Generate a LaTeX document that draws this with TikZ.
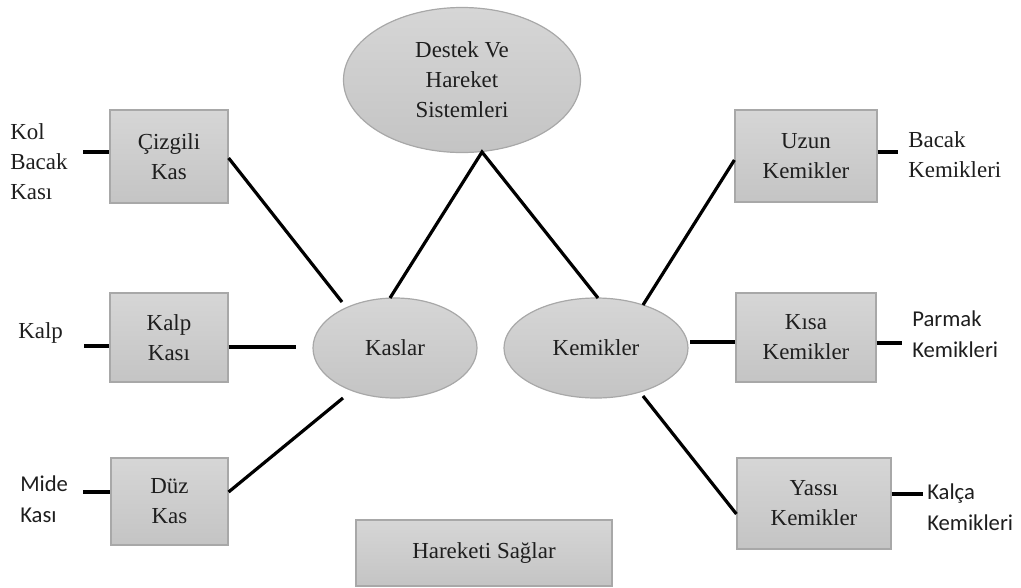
\documentclass[tikz,border=0pt]{standalone}
\usepackage{fontspec}
\setmainfont{Liberation Serif}
\newfontfamily\labelsans{Carlito}
\usetikzlibrary{shapes.geometric}

\definecolor{boxtop}{HTML}{D6D6D6}
\definecolor{boxbot}{HTML}{C4C4C4}
\definecolor{boxedge}{HTML}{A8A8A8}
\definecolor{txt}{HTML}{1E1E1E}

\tikzset{
  greybox/.style={draw=boxedge, line width=0.9pt, top color=boxtop, bottom color=boxbot,
    rectangle, align=center, inner sep=0pt, text=txt,
    font=\fontsize{17.2}{22.5}\selectfont},
  greyoval/.style={greybox, ellipse},
  link/.style={line width=2.4pt, line cap=butt},
  sidelabel/.style={align=left, anchor=west, inner sep=0pt, text=txt,
    font=\fontsize{17.2}{22.5}\selectfont},
  sidesans/.style={sidelabel, font=\labelsans\fontsize{17}{23}\selectfont},
}

\begin{document}
\begin{tikzpicture}[x=0.75pt, y=-0.75pt]
  \useasboundingbox (0,0) rectangle (1021,587);

  % central ovals
  \node[greyoval, minimum width=237*0.75pt, minimum height=145*0.75pt] (top) at (462,80) {Destek Ve\\Hareket\\Sistemleri};
  \node[greyoval, minimum width=164*0.75pt, minimum height=100*0.75pt] (kaslar) at (395,348) {Kaslar};
  \node[greyoval, minimum width=184*0.75pt, minimum height=100*0.75pt] (kemikler) at (596,348) {Kemikler};

  % muscle boxes
  \node[greybox, minimum width=118*0.75pt, minimum height=93*0.75pt] (cizgili) at (169,156.5) {Çizgili\\Kas};
  \node[greybox, minimum width=118*0.75pt, minimum height=89*0.75pt] (kalp) at (169,337.5) {Kalp\\Kası};
  \node[greybox, minimum width=117*0.75pt, minimum height=87*0.75pt] (duz) at (169.5,501.5) {Düz\\Kas};

  % bone boxes
  \node[greybox, minimum width=142*0.75pt, minimum height=92*0.75pt] (uzun) at (806,156) {Uzun\\Kemikler};
  \node[greybox, minimum width=140*0.75pt, minimum height=89*0.75pt] (kisa) at (806,337.5) {Kısa\\Kemikler};
  \node[greybox, minimum width=154*0.75pt, minimum height=91*0.75pt] (yassi) at (814,503.5) {Yassı\\Kemikler};

  % bottom caption box
  \node[greybox, minimum width=256*0.75pt, minimum height=66*0.75pt] (saglar) at (484,553) {Hareketi Sağlar};

  % side labels
  \node[sidelabel] (kol) at (10,162) {Kol\\Bacak\\Kası};
  \node[sidelabel] (kalpl) at (18,333) {Kalp};
  \node[sidesans] (mide) at (20,499) {Mide\\Kası};
  \node[sidelabel] (bacak) at (908,155) {Bacak\\Kemikleri};
  \node[sidesans] (parmak) at (912,334) {Parmak\\Kemikleri};
  \node[sidesans] (kalca) at (927,507) {Kalça\\Kemikleri};

  % free ends of the connectors
  \coordinate (apex) at (482,152);
  \coordinate (kaslarTL) at (342,302);
  \coordinate (kaslarT) at (390,298);
  \coordinate (kemiklerT) at (598,298);
  \coordinate (kemiklerTR) at (643,305);
  \coordinate (kaslarL) at (296,347);
  \coordinate (kemiklerR) at (690,342);
  \coordinate (kaslarBL) at (343,398);
  \coordinate (kemiklerBR) at (643,396);
  \coordinate (kolEnd) at (83,152);
  \coordinate (kalpEnd) at (84,346);
  \coordinate (mideEnd) at (83,492);
  \coordinate (bacakEnd) at (898,152);
  \coordinate (parmakEnd) at (902,343);
  \coordinate (kalcaEnd) at (923,494);

  % connectors
  \draw[link] (kaslarT) -- (apex) -- (kemiklerT);
  \draw[link] (cizgili.east |- 0,158) -- (kaslarTL);
  \draw[link] (kalp.east |- 0,347) -- (kaslarL);
  \draw[link] (duz.east |- 0,492) -- (kaslarBL);
  \draw[link] (uzun.west |- 0,160) -- (kemiklerTR);
  \draw[link] (kemiklerR) -- (kisa.west |- 0,342);
  \draw[link] (kemiklerBR) -- (yassi.west |- 0,514);

  % stubs to the side labels
  \draw[link] (kolEnd) -- (cizgili.west |- kolEnd);
  \draw[link] (kalpEnd) -- (kalp.west |- kalpEnd);
  \draw[link] (mideEnd) -- (duz.west |- mideEnd);
  \draw[link] (uzun.east |- bacakEnd) -- (bacakEnd);
  \draw[link] (kisa.east |- parmakEnd) -- (parmakEnd);
  \draw[link] (yassi.east |- kalcaEnd) -- (kalcaEnd);
\end{tikzpicture}
\end{document}
